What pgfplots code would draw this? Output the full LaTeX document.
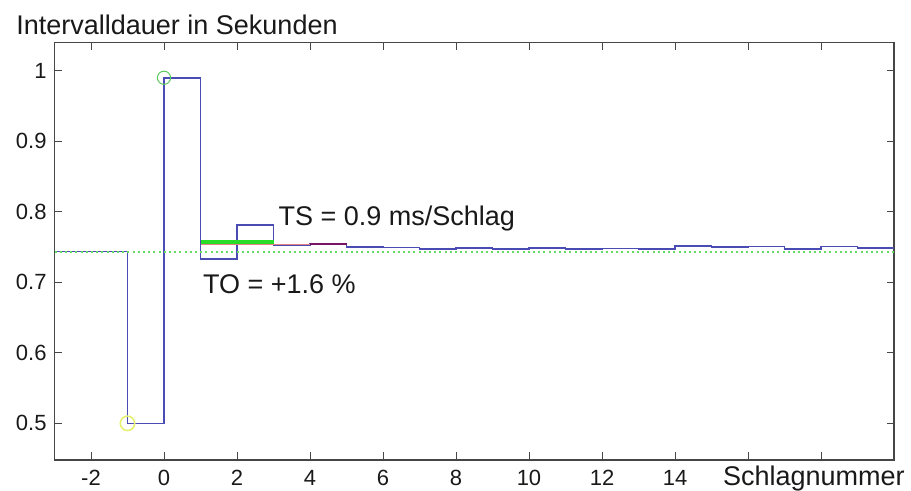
\documentclass[border=0pt]{standalone}
\usepackage{fontspec}
\setmainfont{Liberation Sans}
\usepackage{pgfplots}
\pgfplotsset{compat=1.18}
\definecolor{stairblue}{RGB}{75,75,180}
\definecolor{dotgreen}{RGB}{100,220,100}
\definecolor{thickgreen}{RGB}{40,220,40}
\definecolor{pinkline}{RGB}{225,130,130}
\definecolor{purpleline}{RGB}{120,20,100}
\definecolor{circgreen}{RGB}{90,200,90}
\definecolor{circyellow}{RGB}{230,240,110}
\definecolor{axisgray}{RGB}{70,70,70}
\definecolor{textgray}{RGB}{25,25,25}
\begin{document}
\begin{tikzpicture}
\useasboundingbox (0,0) rectangle (455.5bp,245.5bp);
\node[anchor=base west, inner sep=0, font=\fontsize{13.5bp}{16bp}\selectfont, text=textgray] at (8bp,228.4bp) {Intervalldauer in Sekunden};
\begin{axis}[
  at={(27.25bp,15.5bp)}, anchor=south west,
  scale only axis, width=419.75bp, height=208.75bp,
  xmin=-3, xmax=20, ymin=0.448, ymax=1.04,
  xtick={-2,0,2,4,6,8,10,12,14,16,18},
  xticklabels={-2,0,2,4,6,8,10,12,14,{},{}},
  ytick={0.5,0.6,0.7,0.8,0.9,1},
  yticklabels={0.5,0.6,0.7,0.8,0.9,1},
  xtick pos=both, ytick pos=both,
  tick align=inside, major tick length=3.75bp,
  axis line style={draw=axisgray, line width=0.6bp},
  every tick/.style={draw=axisgray, line width=0.5bp},
  ticklabel style={font=\fontsize{11bp}{13bp}\selectfont, text=textgray},
  xticklabel style={anchor=base, yshift=-12.5bp, inner sep=0pt},
  yticklabel style={anchor=east, xshift=-3.8bp, inner sep=0pt},
  /pgf/number format/assume math mode=true,
]
\addplot[const plot, draw=stairblue, line width=0.8bp] coordinates {
 (-3,0.7435) (-1,0.5) (0,0.99) (1,0.733) (2,0.781) (3,0.7532) (4,0.7546)
 (5,0.7504) (6,0.7495) (7,0.7471) (8,0.749) (9,0.7471) (10,0.749) (11,0.7471)
 (12,0.7481) (13,0.7471) (14,0.7518) (15,0.750) (16,0.751) (17,0.7471)
 (18,0.751) (19,0.749) (20,0.749)};
\addplot[draw=dotgreen, line width=1bp, dash pattern=on 1bp off 1.6bp] coordinates {(-3,0.7435) (20,0.7435)};
\addplot[draw=pinkline, line width=0.7bp] coordinates {(1,0.7532) (4,0.7532)};
\addplot[draw=purpleline, line width=0.9bp] coordinates {(4,0.7546) (5,0.7546)};
\addplot[draw=thickgreen, line width=2bp] coordinates {(1,0.7573) (3,0.7573)};
\addplot[only marks, mark=o, mark size=3.3bp, draw=circgreen, mark options={line width=0.5bp}] coordinates {(0,0.99)};
\addplot[only marks, mark=o, mark size=3.6bp, draw=circyellow, mark options={line width=0.8bp}] coordinates {(-1,0.5)};
\node[anchor=base west, inner sep=0, font=\fontsize{13.5bp}{16bp}\selectfont, text=textgray] at (axis cs:3.13,0.780) {TS = 0.9 ms/Schlag};
\node[anchor=base west, inner sep=0, font=\fontsize{13.5bp}{16bp}\selectfont, text=textgray] at (axis cs:1.06,0.684) {TO = +1.6 \%};
\end{axis}
\node[anchor=base east, inner sep=0, font=\fontsize{13.5bp}{16bp}\selectfont, text=textgray] at (452.5bp,3bp) {Schlagnummer};
\end{tikzpicture}
\end{document}
